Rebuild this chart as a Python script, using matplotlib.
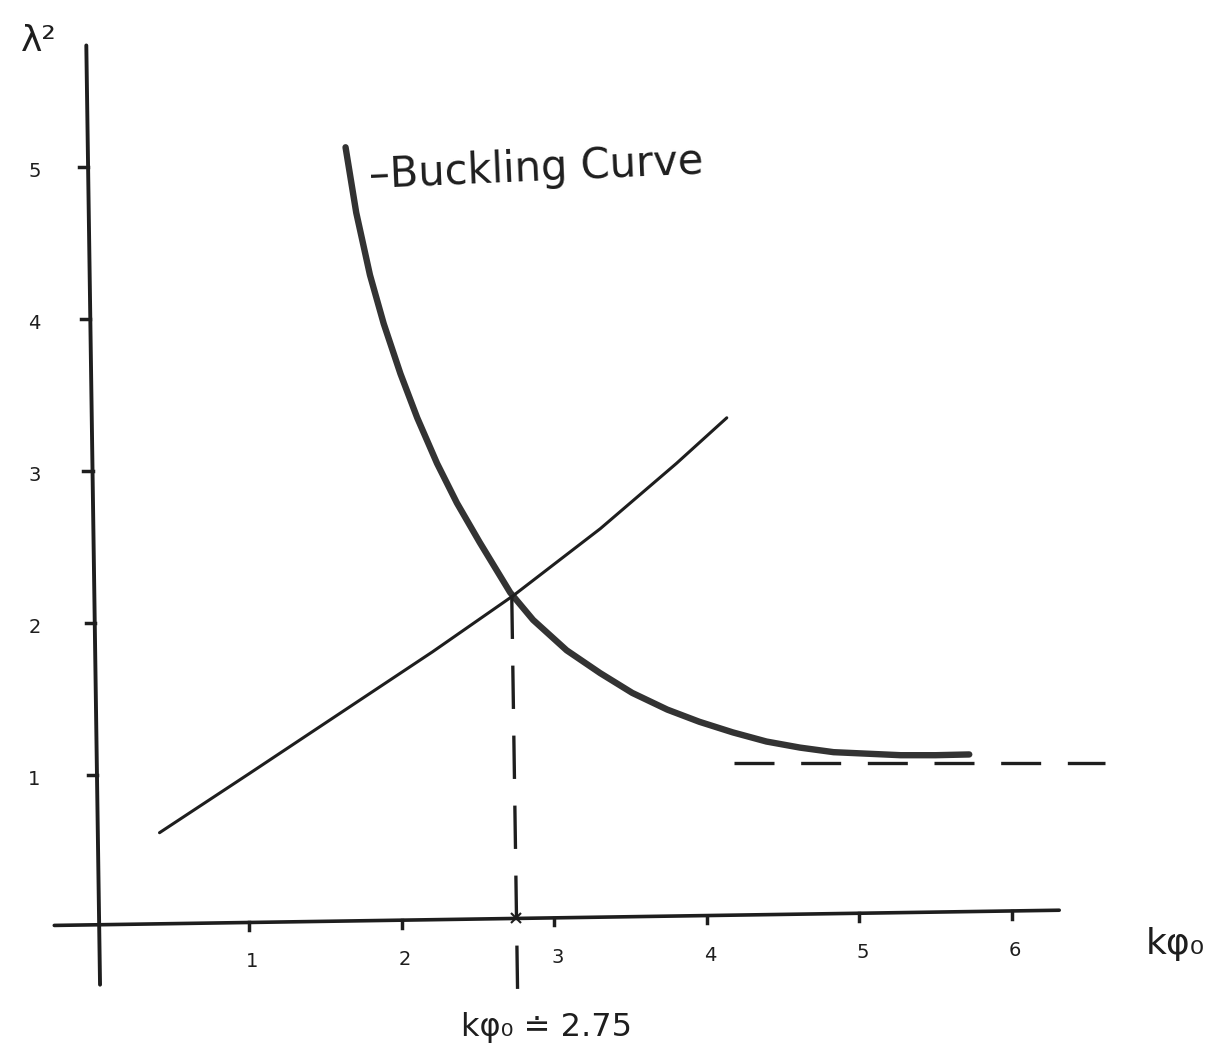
import numpy as np
import matplotlib.pyplot as plt

# values (x = k*phi0, y = lambda^2)
buckling_x = [1.63, 1.70, 1.79, 1.88, 1.99, 2.10, 2.23, 2.36, 2.51, 2.71, 2.86, 3.08,
              3.30, 3.51, 3.74, 3.95, 4.17, 4.39, 4.61, 4.83, 5.05, 5.27, 5.50, 5.72]
buckling_y = [5.13, 4.70, 4.29, 3.97, 3.64, 3.35, 3.05, 2.79, 2.53, 2.20, 2.02, 1.82,
              1.67, 1.54, 1.43, 1.35, 1.28, 1.22, 1.18, 1.15, 1.14, 1.13, 1.13, 1.135]

line_x = [0.41, 1.00, 1.60, 2.20, 2.73, 3.30, 3.80, 4.13]
line_y = [0.62, 1.01, 1.41, 1.81, 2.18, 2.62, 3.05, 3.35]

asymptote_x = [4.18, 6.61]
asymptote_y = [1.08, 1.08]

crit_x = [2.72, 2.76]
crit_y = [2.18, -0.55]
crit_value = 2.75

xaxis_x = [-0.28, 6.31]
xaxis_y = [0.01, 0.11]
yaxis_x = [-0.07, 0.02]
yaxis_y = [5.80, -0.38]

xticks = [1, 2, 3, 4, 5, 6]
yticks = [1, 2, 3, 4, 5]

ink = "#1e1e1e"

fig = plt.figure(figsize=(12.14, 10.54), dpi=100)
ax = fig.add_axes([0, 0, 1, 1])
ax.set_xlim(-0.636, 7.325)
ax.set_ylim(-0.836, 6.099)
ax.axis("off")

# hand-drawn axes
ax.plot(xaxis_x, xaxis_y, color=ink, lw=2.6, solid_capstyle="round")
ax.plot(yaxis_x, yaxis_y, color=ink, lw=2.8, solid_capstyle="round")

def axis_y_at(x):
    return np.interp(x, xaxis_x, xaxis_y)

def axis_x_at(y):
    return np.interp(y, yaxis_y[::-1], yaxis_x[::-1])

for t in xticks:
    y0 = axis_y_at(t)
    ax.plot([t, t], [y0, y0 - 0.05], color=ink, lw=2.5)
    ax.text(t + 0.02, y0 - 0.26, str(t), fontsize=14, ha="center", va="center", color=ink)

for t in yticks:
    x0 = axis_x_at(t)
    ax.plot([x0 - 0.06, x0], [t, t], color=ink, lw=2.5)
    ax.text(-0.41, t - 0.03, str(t), fontsize=14, ha="center", va="center", color=ink)

# curves
ax.plot(buckling_x, buckling_y, color="#333333", lw=4.6, solid_capstyle="round", solid_joinstyle="round")
ax.plot(line_x, line_y, color=ink, lw=2.2, solid_capstyle="round", solid_joinstyle="round")
ax.plot(asymptote_x, asymptote_y, color=ink, lw=2.4, dashes=(12, 8))
ax.plot(crit_x, crit_y, color=ink, lw=2.4, dashes=(13, 8))
ax.plot([crit_value], [axis_y_at(crit_value)], marker="x", color=ink, ms=7, mew=1.5)

# labels
ax.text(1.79, 4.86, "\u2013Buckling Curve", fontsize=30, ha="left", va="baseline",
        rotation=2.5, rotation_mode="anchor", color=ink)
ax.text(-0.38, 5.83, "\u03bb\u00b2", fontsize=26, ha="center", va="center", color=ink)
ax.text(7.07, -0.11, "k\u03c6\u2080", fontsize=26, ha="center", va="center", color=ink)
ax.text(2.95, -0.66, "k\u03c6\u2080 \u2250 2.75", fontsize=23, ha="center", va="center", color=ink)

fig.savefig("out.png", dpi=100, facecolor="white")
